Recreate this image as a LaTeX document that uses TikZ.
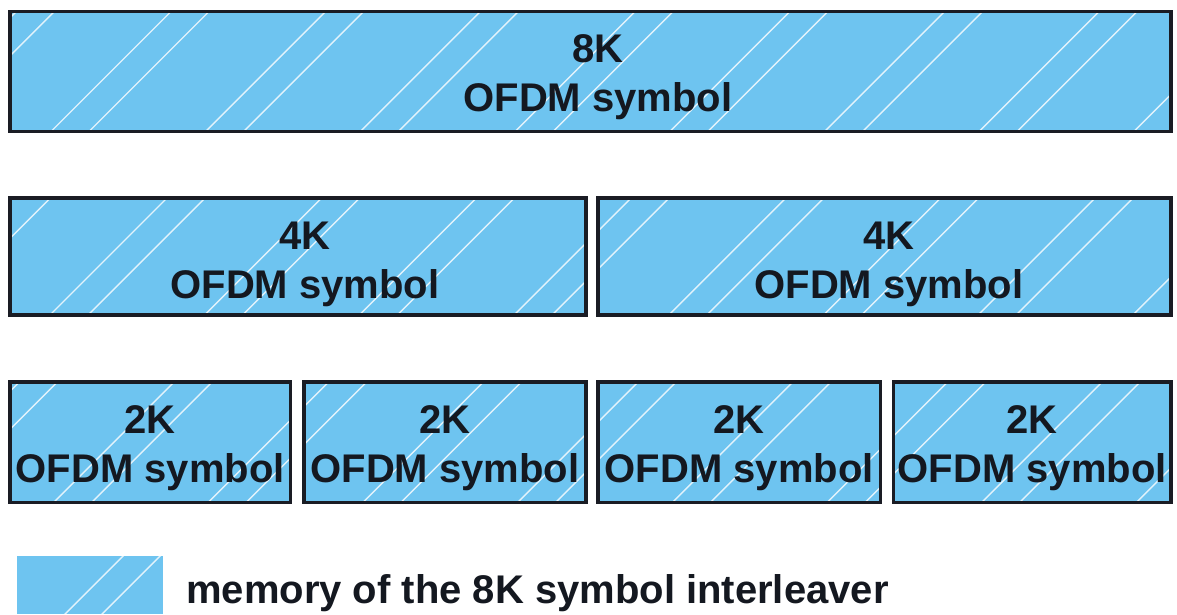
\documentclass[tikz,border=0pt]{standalone}
\usepackage{fontspec}
\setmainfont{Liberation Sans}
\usetikzlibrary{backgrounds}
\definecolor{boxblue}{RGB}{110,196,240}
\definecolor{edgecol}{RGB}{26,28,36}
\definecolor{ink}{RGB}{20,24,32}
\tikzset{
  membox/.style={draw=edgecol, line width=3.5pt, inner sep=0pt, outer sep=0pt},
  legbox/.style={inner sep=0pt, outer sep=0pt, minimum width=146pt, minimum height=58pt},
  boxtext/.style={anchor=north, inner sep=0pt, align=center, text=ink,
    font=\fontsize{40}{49}\selectfont\bfseries},
  legtext/.style={anchor=base west, inner sep=0pt, text=ink,
    font=\fontsize{40}{49}\selectfont\bfseries},
  hatchline/.style={draw=white, line width=1.4pt, opacity=0.8}
}
\begin{document}
\begin{tikzpicture}[x=1pt,y=-1pt]
\useasboundingbox (0,0) rectangle (1177,614);

% boxes
\node[membox, minimum width=1161pt, minimum height=120pt] (b8) at (590.5,71.5) {};
\node[membox, minimum width=576pt, minimum height=117pt] (b4a) at (298,256.5) {};
\node[membox, minimum width=573pt, minimum height=117pt] (b4b) at (884.5,256.5) {};
\node[membox, minimum width=280.5pt, minimum height=120.5pt] (b2a) at (150.25,442.25) {};
\node[membox, minimum width=282pt, minimum height=120.5pt] (b2b) at (445,442.25) {};
\node[membox, minimum width=282.5pt, minimum height=120.5pt] (b2c) at (739.25,442.25) {};
\node[membox, minimum width=277.5pt, minimum height=120.5pt] (b2d) at (1032.25,442.25) {};
\node[legbox] (leg) at (90,585) {};

% texts
\node[boxtext] (t8) at (598,34) {8K\\OFDM symbol};
\node[boxtext] (t4a) at (305,222) {4K\\OFDM symbol};
\node[boxtext] (t4b) at (889,222) {4K\\OFDM symbol};
\node[boxtext] (t2a) at (150.25,405) {2K\\OFDM symbol};
\node[boxtext] (t2b) at (445,405) {2K\\OFDM symbol};
\node[boxtext] (t2c) at (739.25,405) {2K\\OFDM symbol};
\node[boxtext] (t2d) at (1032.25,405) {2K\\OFDM symbol};
\node[legtext] (lt) at (186,603) {memory of the 8K symbol interleaver};

\begin{scope}[on background layer]
  \fill[white] (0,0) rectangle (1177,614);
  \foreach \n in {b8,b4a,b4b,b2a,b2b,b2c,b2d,leg}
    \fill[boxblue] (\n.south west) rectangle (\n.north east);
  % row 1 hatch
  \begin{scope}
    \clip (b8.south west) rectangle (b8.north east);
    \foreach \k in {-2,...,8} {
      \draw[hatchline] ({51+154.7*\k-150},281.5) -- ++(450,-450);
      \draw[hatchline] ({89+154.7*\k-150},281.5) -- ++(450,-450);
    }
  \end{scope}
  % row 2 hatch
  \begin{scope}
    \clip (b4a.south west) rectangle (b4a.north east)
          (b4b.south west) rectangle (b4b.north east);
    \foreach \k in {-2,...,8} {
      \draw[hatchline] ({50+154.7*\k-150},465) -- ++(450,-450);
      \draw[hatchline] ({88+154.7*\k-150},465) -- ++(450,-450);
    }
  \end{scope}
  % row 3 hatch
  \begin{scope}
    \clip (b2a.south west) rectangle (b2a.north east)
          (b2b.south west) rectangle (b2b.north east)
          (b2c.south west) rectangle (b2c.north east)
          (b2d.south west) rectangle (b2d.north east);
    \foreach \k in {-2,...,8} {
      \draw[hatchline] ({53.5+154.7*\k-150},652.5) -- ++(450,-450);
      \draw[hatchline] ({91.5+154.7*\k-150},652.5) -- ++(450,-450);
    }
  \end{scope}
  % legend hatch
  \begin{scope}
    \clip (leg.south west) rectangle (leg.north east);
    \draw[hatchline] (-35,714) -- ++(300,-300);
    \draw[hatchline] (2,714) -- ++(300,-300);
  \end{scope}
\end{scope}
\end{tikzpicture}
\end{document}
